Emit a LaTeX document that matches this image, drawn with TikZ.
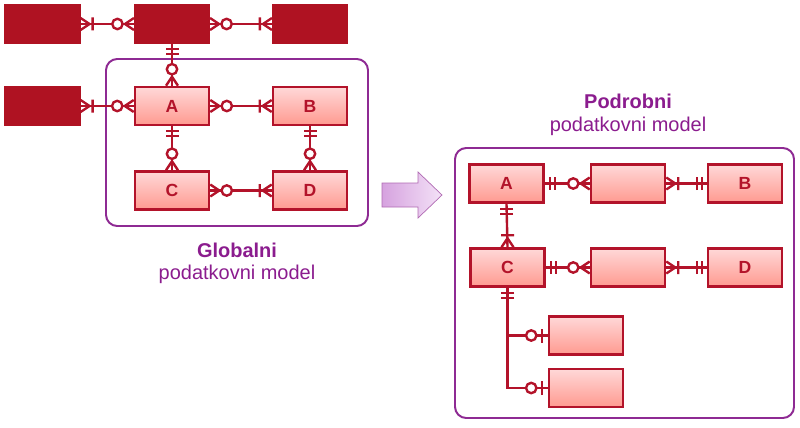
\documentclass[tikz,border=0pt]{standalone}
\usepackage{fontspec}
\setmainfont{Liberation Sans}
\usetikzlibrary{shadows}

\definecolor{erred}{HTML}{B3132A}
\definecolor{erdark}{HTML}{AF1222}
\definecolor{ertop}{HTML}{FFD8D8}
\definecolor{erbottom}{HTML}{FF9A90}
\definecolor{frame}{HTML}{8E2A93}
\definecolor{caption}{HTML}{8B1C8E}
\definecolor{arrowleft}{HTML}{D6A2DF}
\definecolor{arrowright}{HTML}{F4E2F7}

\tikzset{
  entity/.style={draw=erred, line width=1.8pt, minimum width=1.85cm, minimum height=0.95cm,
    top color=ertop, bottom color=erbottom, text=erred, font=\fontsize{12.5}{14}\selectfont\bfseries,
    drop shadow={shadow xshift=0.03cm, shadow yshift=-0.03cm, opacity=0.25}},
  outer/.style={draw=erdark, fill=erdark, line width=1.5pt, minimum width=1.85cm, minimum height=0.95cm,
    drop shadow={shadow xshift=0.03cm, shadow yshift=-0.03cm, opacity=0.25}},
  erline/.style={draw=erred, line width=1.7pt},
  modelframe/.style={draw=frame, line width=1.4pt, rounded corners=0.28cm},
  title/.style={text=caption, font=\fontsize{14.2}{16}\selectfont}
}

% crow's foot ends: #1 anchor, #2 direction away from the box
\newcommand{\relMany}[2]{\draw[erline,shift={(#1)},rotate=#2] (0,6) -- (9,0) -- (0,-6) (12,-6.5) -- (12,6.5);}
\newcommand{\relZeroMany}[2]{\draw[erline,shift={(#1)},rotate=#2] (0,6) -- (9,0) -- (0,-6); \draw[erline,fill=white,shift={(#1)},rotate=#2] (16.5,0) circle (5.2);}
\newcommand{\relOne}[2]{\draw[erline,shift={(#1)},rotate=#2] (5,-6.5) -- (5,6.5) (10,-6.5) -- (10,6.5);}
\newcommand{\relZeroOne}[2]{\draw[erline,shift={(#1)},rotate=#2] (6,-7) -- (6,7); \draw[erline,fill=white,shift={(#1)},rotate=#2] (16.5,0) circle (5.2);}

\begin{document}
\begin{tikzpicture}[x=0.025cm,y=-0.025cm]
\useasboundingbox (0,0) rectangle (800,427);

% Drawing frame of global model
\draw [modelframe] (106,59) rectangle (368,226);

% Drawing frame of detailed model
\draw [modelframe] (455,148) rectangle (794,418);

% Marking outer entities
\node [outer] (g1) at (42.5,24) {};
\node [outer] (g2) at (172,24) {};
\node [outer] (g3) at (310,24) {};
\node [outer] (g4) at (42.5,106) {};

% Marking global entities
\node [entity] (A) at (172,106) {A};
\node [entity] (B) at (310,106) {B};
\node [entity] (C) at (172,190.5) {C};
\node [entity] (D) at (310,190.5) {D};

% Drawing relation g1 g2
\draw [erline] (g1.east) -- (g2.west);
\relMany{g1.east}{0}
\relZeroMany{g2.west}{180}

% Drawing relation g2 g3
\draw [erline] (g2.east) -- (g3.west);
\relZeroMany{g2.east}{0}
\relMany{g3.west}{180}

% Drawing relation g2 A
\draw [erline] (g2.south) -- (A.north);
\relOne{g2.south}{-90}
\relZeroMany{A.north}{90}

% Drawing relation g4 A
\draw [erline] (g4.east) -- (A.west);
\relMany{g4.east}{0}
\relZeroMany{A.west}{180}

% Drawing relation A B
\draw [erline] (A.east) -- (B.west);
\relZeroMany{A.east}{0}
\relMany{B.west}{180}

% Drawing relation A C
\draw [erline] (A.south) -- (C.north);
\relOne{A.south}{-90}
\relZeroMany{C.north}{90}

% Drawing relation B D
\draw [erline] (B.south) -- (D.north);
\relOne{B.south}{-90}
\relZeroMany{D.north}{90}

% Drawing relation C D
\draw [erline] (C.east) -- (D.west);
\relZeroMany{C.east}{0}
\relMany{D.west}{180}

% Marking captions of global model
\node [title, font=\fontsize{14.2}{16}\selectfont\bfseries] (gname) at (237,250) {Globalni};
\node [title] (gsub) at (237,274) {podatkovni model};

% Drawing transition arrow
\draw [draw=frame!70, line width=0.5pt, left color=arrowleft, right color=arrowright]
  (382,183) -- (418,183) -- (418,172) -- (442,195) -- (418,218) -- (418,207) -- (382,207) -- cycle;

% Marking captions of detailed model
\node [title, font=\fontsize{14.2}{16}\selectfont\bfseries] (pname) at (628,101) {Podrobni};
\node [title] (psub) at (628,126) {podatkovni model};

% Marking detailed entities
\node [entity] (pA) at (506.5,183.5) {A};
\node [entity] (pM1) at (628,183.5) {};
\node [entity] (pB) at (745,183.5) {B};
\node [entity] (pC) at (507.5,267.5) {C};
\node [entity] (pM2) at (628,267.5) {};
\node [entity] (pD) at (745,267.5) {D};
\node [entity] (pE) at (586,335.5) {};
\node [entity] (pF) at (586,388) {};

% Drawing relation pA pM1
\draw [erline] (pA.east) -- (pM1.west);
\relOne{pA.east}{0}
\relZeroMany{pM1.west}{180}

% Drawing relation pM1 pB
\draw [erline] (pM1.east) -- (pB.west);
\relMany{pM1.east}{0}
\relOne{pB.west}{180}

% Drawing relation pA pC
\draw [erline] (pA.south) -- (pC.north);
\relOne{pA.south}{-90}
\relMany{pC.north}{90}

% Drawing relation pC pM2
\draw [erline] (pC.east) -- (pM2.west);
\relOne{pC.east}{0}
\relZeroMany{pM2.west}{180}

% Drawing relation pM2 pD
\draw [erline] (pM2.east) -- (pD.west);
\relMany{pM2.east}{0}
\relOne{pD.west}{180}

% Drawing relation pC pE pF
\draw [erline] (pC.south) |- (pF.west);
\draw [erline] (pC.south |- pE.west) -- (pE.west);
\relOne{pC.south}{-90}
\relZeroOne{pE.west}{180}
\relZeroOne{pF.west}{180}

\end{tikzpicture}
\end{document}
